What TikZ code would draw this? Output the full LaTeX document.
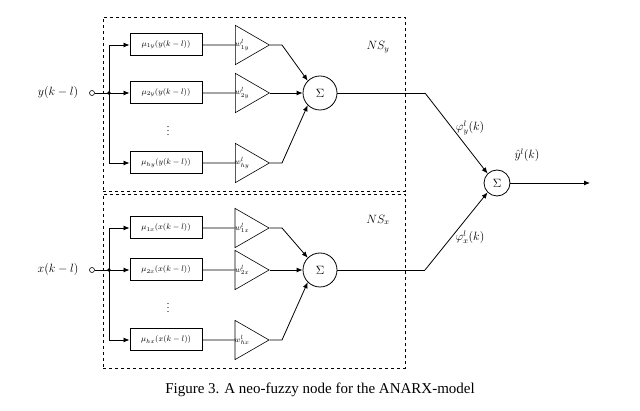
\documentclass[tikz,border=0pt]{standalone}
\usepackage{fontspec}
\setmainfont{Liberation Serif}
\usetikzlibrary{arrows.meta,shapes.geometric}
\begin{document}
\begin{tikzpicture}[x=1pt,y=-1pt,
 ln/.style={line width=0.8pt,-{Latex[length=6pt,width=5pt]}},
 pl/.style={line width=0.8pt},
 mf/.style={draw,line width=1pt,minimum width=72pt,minimum height=22pt,inner sep=0pt,font=\fontsize{8}{9}\selectfont},
 tri/.style={draw,isosceles triangle,isosceles triangle apex angle=60,minimum height=34pt,inner sep=0pt,font=\fontsize{8}{9}\selectfont,line width=0.6pt},
 sm/.style={draw,circle,minimum size=34pt,inner sep=0pt,line width=0.8pt,font=\large},
 lab/.style={font=\fontsize{12}{14}\selectfont},
 box/.style={draw,dashed,line width=0.9pt}]
\useasboundingbox (0,0) rectangle (640,411);
\node[box,minimum width=302pt,minimum height=174pt,anchor=north west] (by) at (103,17) {};
\node[box,minimum width=302pt,minimum height=174pt,anchor=north west] (bx) at (103,194) {};
\node[lab] at (378,47) (nsy) {$NS_y$};
\node[lab] at (378,220) (nsx) {$NS_x$};
\foreach \g/\Y/\ra/\rb/\rc/\v in {y/0/45/93/163/y, x/177/228/270/340/x}{
 \node[lab] (in\g) at (58,\rb) {$\v(k-l)$};
 \node[draw,circle,minimum size=5pt,inner sep=0pt,line width=0.6pt] (c\g) at (92,\rb) {};
 \coordinate (j\g) at (109,\rb);
 \fill (j\g) circle (1.8pt);
 \draw[pl] (c\g) -- (j\g);
 \draw[pl] (109,\ra) -- (109,\rc);
 \node[sm] (s\g) at (320,\rb) {$\Sigma$};
 \foreach \r/\i in {\ra/1,\rb/2,\rc/h}{
  \coordinate (b\g\i) at (109,\r);
  \node[mf] (m\g\i) at (166,\r) {$\mu_{\i\v}(\v(k-l))$};
  \node[tri] (t\g\i) at (245,\r) {\hspace*{-6pt}$w^{l}_{\i\v}$};
  \draw[ln] (b\g\i) -- (m\g\i.west);
  \draw[pl] (m\g\i.east) -- (t\g\i.west);
 }
 \draw[ln] (t\g1.apex) -- (282,\ra) -- (s\g.north west);
 \draw[ln] (t\g2.apex) -- (s\g.west);
 \draw[ln] (t\g h.apex) -- (282,\rc) -- (s\g.south west);
 \node[inner sep=0pt] at (168,{(\rb+\rc)/2}) {$\vdots$};
}
\node[draw,circle,minimum size=26pt,inner sep=0pt,line width=0.8pt,font=\large] (so) at (497,183) {$\Sigma$};
\draw[pl] (sy.east) -- (425,93);
\draw[ln] (425,93) -- (so.north west);
\draw[pl] (sx.east) -- (425,270);
\draw[ln] (425,270) -- (so.south west);
\coordinate (out) at (590,183);
\draw[ln] (so.east) -- (out);
\node[lab] at (470,128) (py) {$\varphi^{l}_{y}(k)$};
\node[lab] at (470,237) (px) {$\varphi^{l}_{x}(k)$};
\node[lab] at (527,155) (yh) {$\hat{y}^{l}(k)$};
\node at (320,390) (cap) {\fontsize{15}{18}\selectfont Figure 3. A neo-fuzzy node for the ANARX-model};
\end{tikzpicture}
\end{document}
